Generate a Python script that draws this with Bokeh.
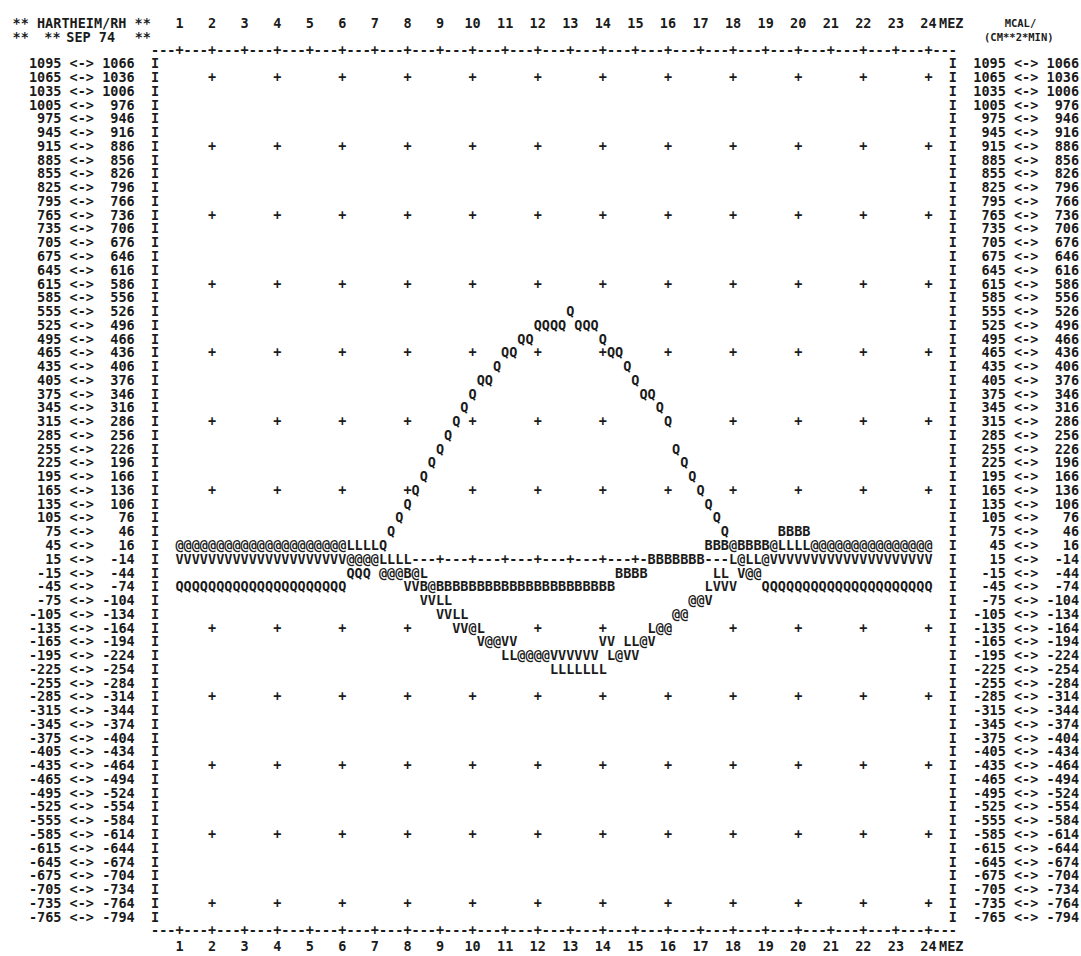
from bokeh.plotting import figure
from bokeh.models import ColumnDataSource, Range1d
from bokeh.core.properties import value
from bokeh.embed import file_html
from bokeh.resources import INLINE

# ---------------------------------------------------------------------------
# Energy balance, Hartheim (RH), September 1974 -- mcal/(cm**2*min)
# quarter-hour records from 01:00 to 24:00 MEZ
# Q: net radiation, B: soil heat flux, L: sensible heat flux, V: latent heat flux
# ---------------------------------------------------------------------------
STATION = "** HARTHEIM/RH **"
DATE_PARTS = ["**", "**", "SEP 74", "**"]
UNIT_TOP = "MCAL/"
UNIT_BOTTOM = "(CM**2*MIN)"
TIME_UNIT = "MEZ"

hour_ticks = list(range(1, 25))
class_width = 30
class_top = 1080      # class 1095 <-> 1066
class_bottom = -780   # class -765 <-> -794

times = [1 + i / 4 for i in range(93)]

Q = [
    -60, -60, -60, -60, -60, -60, -60,
    -60, -60, -60, -60, -60, -60, -60,
    -60, -60, -60, -60, -60, -60, -60,
    -30, -30, -30, 0,
    30, 60, 90, 120, 150, 180, 210, 240, 270, 300, 330, 360,
    390, 390, 420, 450, 450, 480, 480, 510, 510, 510, 510, 540,
    510, 510, 510, 480, 450, 450, 420, 390, 360, 360, 330, 300,
    240, 210, 180, 150, 120, 90, 60, 30, 0, -30, -30, -60,
    -60, -60, -60, -60, -60, -60, -60, -60, -60, -60,
    -60, -60, -60, -60, -60, -60, -60, -60, -60, -60,
]

B = [
    30, 30, 30, 30, 30, 30, 30,
    30, 30, 30, 30, 30, 30, 30,
    30, 30, 30, 30, 30, 30, 30,
    0, 0, 0, 0,
    -30, -30, -30, -30, -30,
    -60, -60, -60, -60, -60, -60, -60, -60, -60, -60, -60, -60,
    -60, -60, -60, -60, -60, -60, -60, -60, -60, -60, -60, -60,
    -30, -30, -30, -30,
    0, 0, 0, 0, 0, 0, 0,
    30, 30, 30, 30, 30, 30, 30, 30, 30,
    60, 60, 60, 60,
    30, 30, 30, 30, 30, 30, 30, 30, 30, 30, 30, 30, 30, 30, 30,
]

L = [
    30, 30, 30, 30, 30, 30, 30, 30, 30, 30, 30, 30, 30,
    30, 30, 30, 30, 30, 30, 30, 30, 30, 30, 30, 30,
    0, 0, 0, 0,
    -30, -30, -60, -90, -90, -120, -120, -150, -150, -180, -180,
    -210, -210, -210, -210, -210, -210,
    -240, -240, -240, -240, -240, -240, -240,
    -210, -210, -180, -180, -180, -150, -150, -150,
    -120, -120, -90, -90, -60, -30, -30,
    0, 0, 0, 0, 0,
    30, 30, 30, 30, 30, 30, 30, 30, 30, 30,
    30, 30, 30, 30, 30, 30, 30, 30, 30, 30,
]

V = [
    0, 0, 0, 0, 0, 0, 0, 0, 0, 0, 0, 0, 0,
    0, 0, 0, 0, 0, 0, 0, 0, 0, 0, 0, 0,
    -30, -30, -30, -60, -60, -90, -90, -120, -120,
    -150, -150, -150, -180, -180, -180, -180, -180,
    -210, -210, -210, -210, -210, -210, -210, -210, -210, -210,
    -180, -180, -210, -210, -210, -180, -180,
    -150, -150, -120, -120, -90, -90, -90,
    -60, -60, -60, -30, -30, -30,
    0, 0, 0, 0, 0, 0, 0, 0, 0, 0, 0,
    0, 0, 0, 0, 0, 0, 0, 0, 0, 0,
]

series = [("Q", Q), ("B", B), ("L", L), ("V", V)]

# ---------------------------------------------------------------------------
# line-printer page: one column = 15 min, one line = one 30-unit class
# ---------------------------------------------------------------------------
STEP = 0.25
INK = "#1b1b1b"
FONT = value("DejaVu Sans Mono")
SIZE = "13.5px"


def col(c):
    """printer column -> hour"""
    return 1 + c * STEP


def line(k):
    """printer line (class index) -> class centre"""
    return k * class_width


p = figure(width=1081, height=956, output_backend="svg", toolbar_location=None,
           x_range=Range1d(-4.497, 28.70), y_range=Range1d(-867, 1217),
           x_axis_location=None, y_axis_location=None, min_border=0)
p.grid.visible = False
p.outline_line_color = None
p.background_fill_color = "white"
p.border_fill_color = "white"


def put(xs, ys, texts, size=SIZE, align="center", style="bold"):
    src = ColumnDataSource(dict(x=xs, y=ys, text=texts))
    p.text(x="x", y="y", text="text", source=src, text_font=FONT,
           text_font_size=size, text_font_style=style, text_align=align,
           text_baseline="middle", text_color=INK)


# plotted symbols; coinciding series print as "@"
cells = {}
for sym, vals in series:
    for t, v in zip(times, vals):
        k = (v + 14) // class_width
        cells.setdefault((t, k), []).append(sym)

sx, sy, st = [], [], []
for (t, k), syms in cells.items():
    sx.append(t)
    sy.append(line(k))
    st.append(syms[0] if len(syms) == 1 else "@")
put(sx, sy, st)

k_top = class_top // class_width
k_bot = class_bottom // class_width

# grid marks every five lines at even hours, zero line dashed
gx, gy, gt = [], [], []
for k in range(k_bot, k_top + 1):
    if k == 0:
        for t in times:
            if (t, k) not in cells:
                gx.append(t)
                gy.append(line(k))
                gt.append("+" if t == int(t) else "-")
    elif k % 5 == 0:
        for h in hour_ticks[1::2]:
            if (float(h), k) not in cells:
                gx.append(h)
                gy.append(line(k))
                gt.append("+")
put(gx, gy, gt)

# frame: dashed top/bottom rule, "I" at both sides
fx, fy, ft = [], [], []
for k in (k_top + 1, k_bot - 1):
    for c in range(-3, 96):
        fx.append(col(c))
        fy.append(line(k))
        ft.append("+" if (c % 4 == 0 and 0 <= c <= 92) else "-")
for k in range(k_bot, k_top + 1):
    for c in (-3, 95):
        fx.append(col(c))
        fy.append(line(k))
        ft.append("I")
put(fx, fy, ft)

# class labels "upper <-> lower" on both sides
ks = list(range(k_top, k_bot - 1, -1))
ly = [line(k) for k in ks]
upper = [str(line(k) + 15) for k in ks]
lower = [str(line(k) - 14) for k in ks]
arrows = ["<->"] * len(ks)
n = len(ks)
put([col(-14.5)] * n, ly, upper, align="right")
put([col(-12)] * n, ly, arrows)
put([col(-5.5)] * n, ly, lower, align="right")
put([col(101.5)] * n, ly, upper, align="right")
put([col(104)] * n, ly, arrows)
put([col(110.5)] * n, ly, lower, align="right")

# hour labels above and below
y_head1 = line(38.9)
y_head2 = line(37.9)
y_foot = line(-28.15)
put(hour_ticks, [y_head1] * 24, [str(h) for h in hour_ticks])
put(hour_ticks, [y_foot] * 24, [str(h) for h in hour_ticks])
put([col(94.8), col(94.8)], [y_head1, y_foot], [TIME_UNIT, TIME_UNIT])

# headings
put([col(-20.5)], [y_head1], [STATION], align="left")
put([col(-20.5), col(-16.6), col(-13.9), col(-5.5)], [y_head2] * 4, DATE_PARTS,
    align="left")
put([col(103.3), col(103.1)], [y_head1, y_head2], [UNIT_TOP, UNIT_BOTTOM], size="10.5px")

open("out.html", "w").write(file_html(p, INLINE))
